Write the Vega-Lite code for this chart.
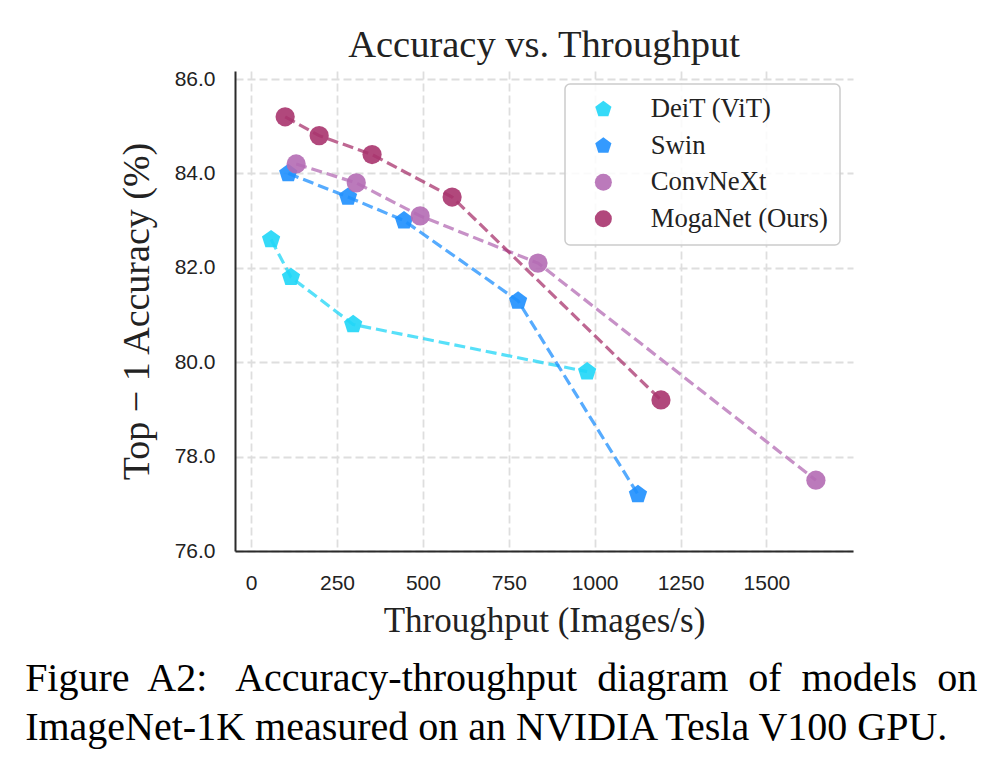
{
  "$schema": "https://vega.github.io/schema/vega-lite/v6.json",
  "background": "white",
  "padding": {"left": 25, "top": 25, "right": 10, "bottom": 10},
  "title": {
    "text": ["Figure\u00a0 A2:\u00a0\u00a0 Accuracy-throughput\u00a0 diagram\u00a0 of\u00a0 models\u00a0 on", "ImageNet-1K measured on an NVIDIA Tesla V100 GPU."],
    "orient": "bottom",
    "anchor": "start",
    "frame": "bounds",
    "dx": -93,
    "offset": 21,
    "font": "Liberation Serif",
    "fontSize": 40,
    "fontWeight": "normal",
    "color": "black",
    "lineHeight": 49
  },
  "config": {
    "view": {"stroke": null},
    "axis": {
      "gridColor": "#dedede",
      "gridDash": [8, 4],
      "gridWidth": 1.8,
      "domainColor": "#2b2b2b",
      "domainWidth": 2,
      "ticks": false,
      "labelFont": "Liberation Sans",
      "labelFontSize": 21,
      "labelColor": "#222222",
      "titleFont": "Liberation Serif",
      "titleFontWeight": "normal",
      "titleColor": "#222222"
    },
    "legend": {
      "orient": "top-right",
      "offset": 13,
      "padding": 12,
      "fillColor": "rgba(255,255,255,0.85)",
      "strokeColor": "#cccccc",
      "strokeWidth": 1.5,
      "cornerRadius": 5,
      "labelFont": "Liberation Serif",
      "labelFontSize": 26.7,
      "labelLimit": 400,
      "labelColor": "#222222",
      "symbolSize": 290,
      "symbolOpacity": 0.9,
      "symbolStrokeWidth": 0,
      "rowPadding": 8.5,
      "symbolOffset": 13,
      "labelOffset": 34
    }
  },
  "vconcat": [
    {
      "title": {
        "text": "Accuracy vs. Throughput",
        "font": "Liberation Serif",
        "fontSize": 38.5,
        "fontWeight": "normal",
        "color": "#222222",
        "offset": 3
      },
      "width": 618,
      "height": 480,
      "data": {
        "values": [
          {"model": "DeiT (ViT)", "throughput": 58, "acc": 82.6},
          {"model": "DeiT (ViT)", "throughput": 116, "acc": 81.8},
          {"model": "DeiT (ViT)", "throughput": 297, "acc": 80.8},
          {"model": "DeiT (ViT)", "throughput": 978, "acc": 79.8},
          {"model": "Swin", "throughput": 108, "acc": 84.0},
          {"model": "Swin", "throughput": 282, "acc": 83.5},
          {"model": "Swin", "throughput": 445, "acc": 83.0},
          {"model": "Swin", "throughput": 777, "acc": 81.3},
          {"model": "Swin", "throughput": 1126, "acc": 77.2},
          {"model": "ConvNeXt", "throughput": 131, "acc": 84.2},
          {"model": "ConvNeXt", "throughput": 306, "acc": 83.8},
          {"model": "ConvNeXt", "throughput": 492, "acc": 83.1},
          {"model": "ConvNeXt", "throughput": 835, "acc": 82.1},
          {"model": "ConvNeXt", "throughput": 1644, "acc": 77.5},
          {"model": "MogaNet (Ours)", "throughput": 99, "acc": 85.2},
          {"model": "MogaNet (Ours)", "throughput": 198, "acc": 84.8},
          {"model": "MogaNet (Ours)", "throughput": 352, "acc": 84.4},
          {"model": "MogaNet (Ours)", "throughput": 585, "acc": 83.5},
          {"model": "MogaNet (Ours)", "throughput": 1193, "acc": 79.2}
        ]
      },
      "encoding": {
        "x": {
          "field": "throughput",
          "type": "quantitative",
          "scale": {"domain": [-47, 1752], "nice": false, "zero": false},
          "axis": {
            "values": [0, 250, 500, 750, 1000, 1250, 1500],
            "format": "d",
            "title": "Throughput (Images/s)",
            "titleFontSize": 35,
            "labelPadding": 21,
            "titlePadding": 10,
            "grid": true
          }
        },
        "y": {
          "field": "acc",
          "type": "quantitative",
          "scale": {"domain": [76, 86.17], "nice": false, "zero": false},
          "axis": {
            "values": [76, 78, 80, 82, 84, 86],
            "format": ".1f",
            "title": "Top − 1 Accuracy (%)",
            "titleFontSize": 38,
            "labelPadding": 20,
            "titlePadding": 18,
            "grid": true
          }
        },
        "color": {
          "field": "model",
          "type": "nominal",
          "title": null,
          "scale": {
            "domain": ["DeiT (ViT)", "Swin", "ConvNeXt", "MogaNet (Ours)"],
            "range": ["#1fd6f7", "#1e8ffe", "#b46cb4", "#a8346e"]
          }
        }
      },
      "layer": [
        {
          "mark": {"type": "line", "strokeDash": [11, 5], "strokeWidth": 3.2, "opacity": 0.75},
          "encoding": {
            "detail": {"field": "model"}
          }
        },
        {
          "mark": {"type": "point", "filled": true, "size": 370, "opacity": 0.9},
          "encoding": {
            "shape": {
              "field": "model",
              "type": "nominal",
              "title": null,
              "scale": {
                "domain": ["DeiT (ViT)", "Swin", "ConvNeXt", "MogaNet (Ours)"],
                "range": [
                  "M0,-1L0.951,-0.309L0.588,0.809L-0.588,0.809L-0.951,-0.309Z",
                  "M0,-1L0.951,-0.309L0.588,0.809L-0.588,0.809L-0.951,-0.309Z",
                  "circle",
                  "circle"
                ]
              }
            }
          }
        }
      ]
    }
  ]
}
